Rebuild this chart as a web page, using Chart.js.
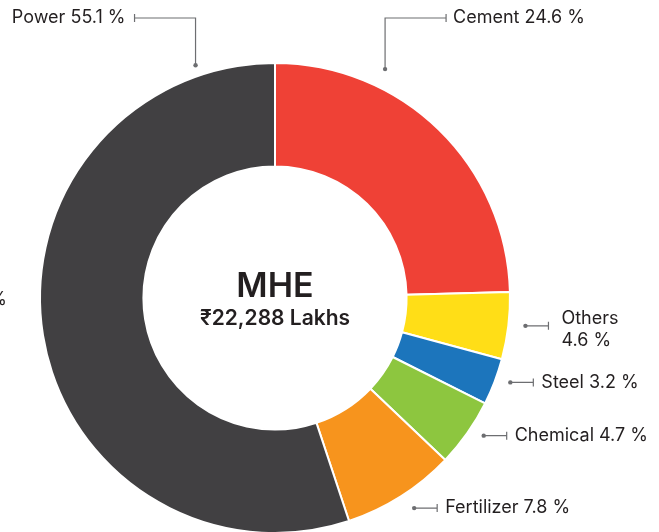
<!DOCTYPE html>
<html>
<head>
<meta charset="utf-8">
<script src="https://cdn.jsdelivr.net/npm/chart.js@4"></script>
<style>
  html, body { margin: 0; padding: 0; background: #fff; overflow: hidden; }
  #wrap { position: relative; width: 659px; height: 540px; }
</style>
</head>
<body>
<div id="wrap"><canvas id="mhe"></canvas></div>
<script>
// segments, clockwise from 12 o'clock
const categories = ["Cement", "Others", "Steel", "Chemical", "Fertilizer", "Power"];
const shares = [24.6, 4.6, 3.2, 4.7, 7.8, 55.1];
const colors = ["#EF4136", "#FFDE17", "#1C75BC", "#8DC63F", "#F7941D", "#414042"];
const centerTitle = "MHE";
const centerSub = "\u20B922,288 Lakhs";

// where the leader dot sits inside each slice (fraction of the arc) + how it is drawn
const leaders = [
  {t: 0.29, out: 19, style: "up-right"},
  {t: 0.47, out: 17, style: "right", twoLines: true},
  {t: 0.40, out: 15, style: "right"},
  {t: 0.40, out: 15, style: "right"},
  {t: 0.46, out: 17, style: "right"},
  {t: 0.905, out: 11, style: "up-left"}
];

const FONT = "Inter, 'Noto Sans', sans-serif";

const labelPlugin = {
  id: "leaders",
  afterDraw(chart) {
    const ctx = chart.ctx;
    const arcs = chart.getDatasetMeta(0).data;
    ctx.save();
    ctx.strokeStyle = "#6d6e71";
    ctx.fillStyle = "#6d6e71";
    ctx.lineWidth = 1.2;
    arcs.forEach((arc, i) => {
      const L = leaders[i];
      const a = arc.startAngle + L.t * (arc.endAngle - arc.startAngle);
      const r = arc.outerRadius + L.out;
      const x = arc.x + r * Math.cos(a);
      const y = arc.y + r * Math.sin(a);
      const txt = `${categories[i]} ${shares[i]} %`;
      ctx.beginPath(); ctx.arc(x, y, 2.2, 0, Math.PI * 2); ctx.fill();
      ctx.beginPath();
      ctx.font = `400 18px ${FONT}`;
      let ex, ey, tx, align;
      if (L.style === "up-right" || L.style === "up-left") {
        ey = 18;
        ex = L.style === "up-right" ? x + 61 : x - 61;
        ctx.moveTo(x, y); ctx.lineTo(x, ey); ctx.lineTo(ex, ey);
        tx = L.style === "up-right" ? ex + 7 : ex - 9;
        align = L.style === "up-right" ? "left" : "right";
      } else {
        ey = y; ex = x + 23;
        ctx.moveTo(x, y); ctx.lineTo(ex, ey);
        tx = ex + 8; align = "left";
      }
      ctx.moveTo(ex, ey - 4); ctx.lineTo(ex, ey + 4);
      ctx.stroke();
      ctx.fillStyle = "#231f20";
      ctx.textAlign = align;
      ctx.textBaseline = "middle";
      if (L.twoLines) {
        ctx.fillText(categories[i], tx + 5, ey - 7);
        ctx.fillText(`${shares[i]} %`, tx + 5, ey + 15);
      } else {
        ctx.fillText(txt, tx, ey);
      }
      ctx.fillStyle = "#6d6e71";
    });
    // clipped label fragment on the far left edge
    ctx.fillStyle = "#231f20";
    ctx.textAlign = "right";
    ctx.textBaseline = "middle";
    ctx.fillText(`${shares[5]} %`, 7, arcs[0].y + 2);

    // centre text
    const cx = arcs[0].x, cy = arcs[0].y;
    ctx.textAlign = "center";
    ctx.textBaseline = "alphabetic";
    ctx.font = `600 34px ${FONT}`;
    ctx.fillText(centerTitle, cx, cy - 1);
    ctx.font = `600 21px ${FONT}`;
    ctx.fillText(centerSub, cx, cy + 27);
    ctx.restore();
  }
};

new Chart(document.getElementById("mhe"), {
  type: "doughnut",
  data: {
    labels: categories,
    datasets: [{
      data: shares,
      backgroundColor: colors,
      borderColor: "#ffffff",
      borderWidth: 2
    }]
  },
  options: {
    responsive: true,
    maintainAspectRatio: false,
    animation: false,
    cutout: "56%",
    layout: { padding: { left: 39, right: 148, top: 62, bottom: 6 } },
    plugins: { legend: { display: false }, tooltip: { enabled: false } }
  },
  plugins: [labelPlugin]
});
</script>
</body>
</html>
